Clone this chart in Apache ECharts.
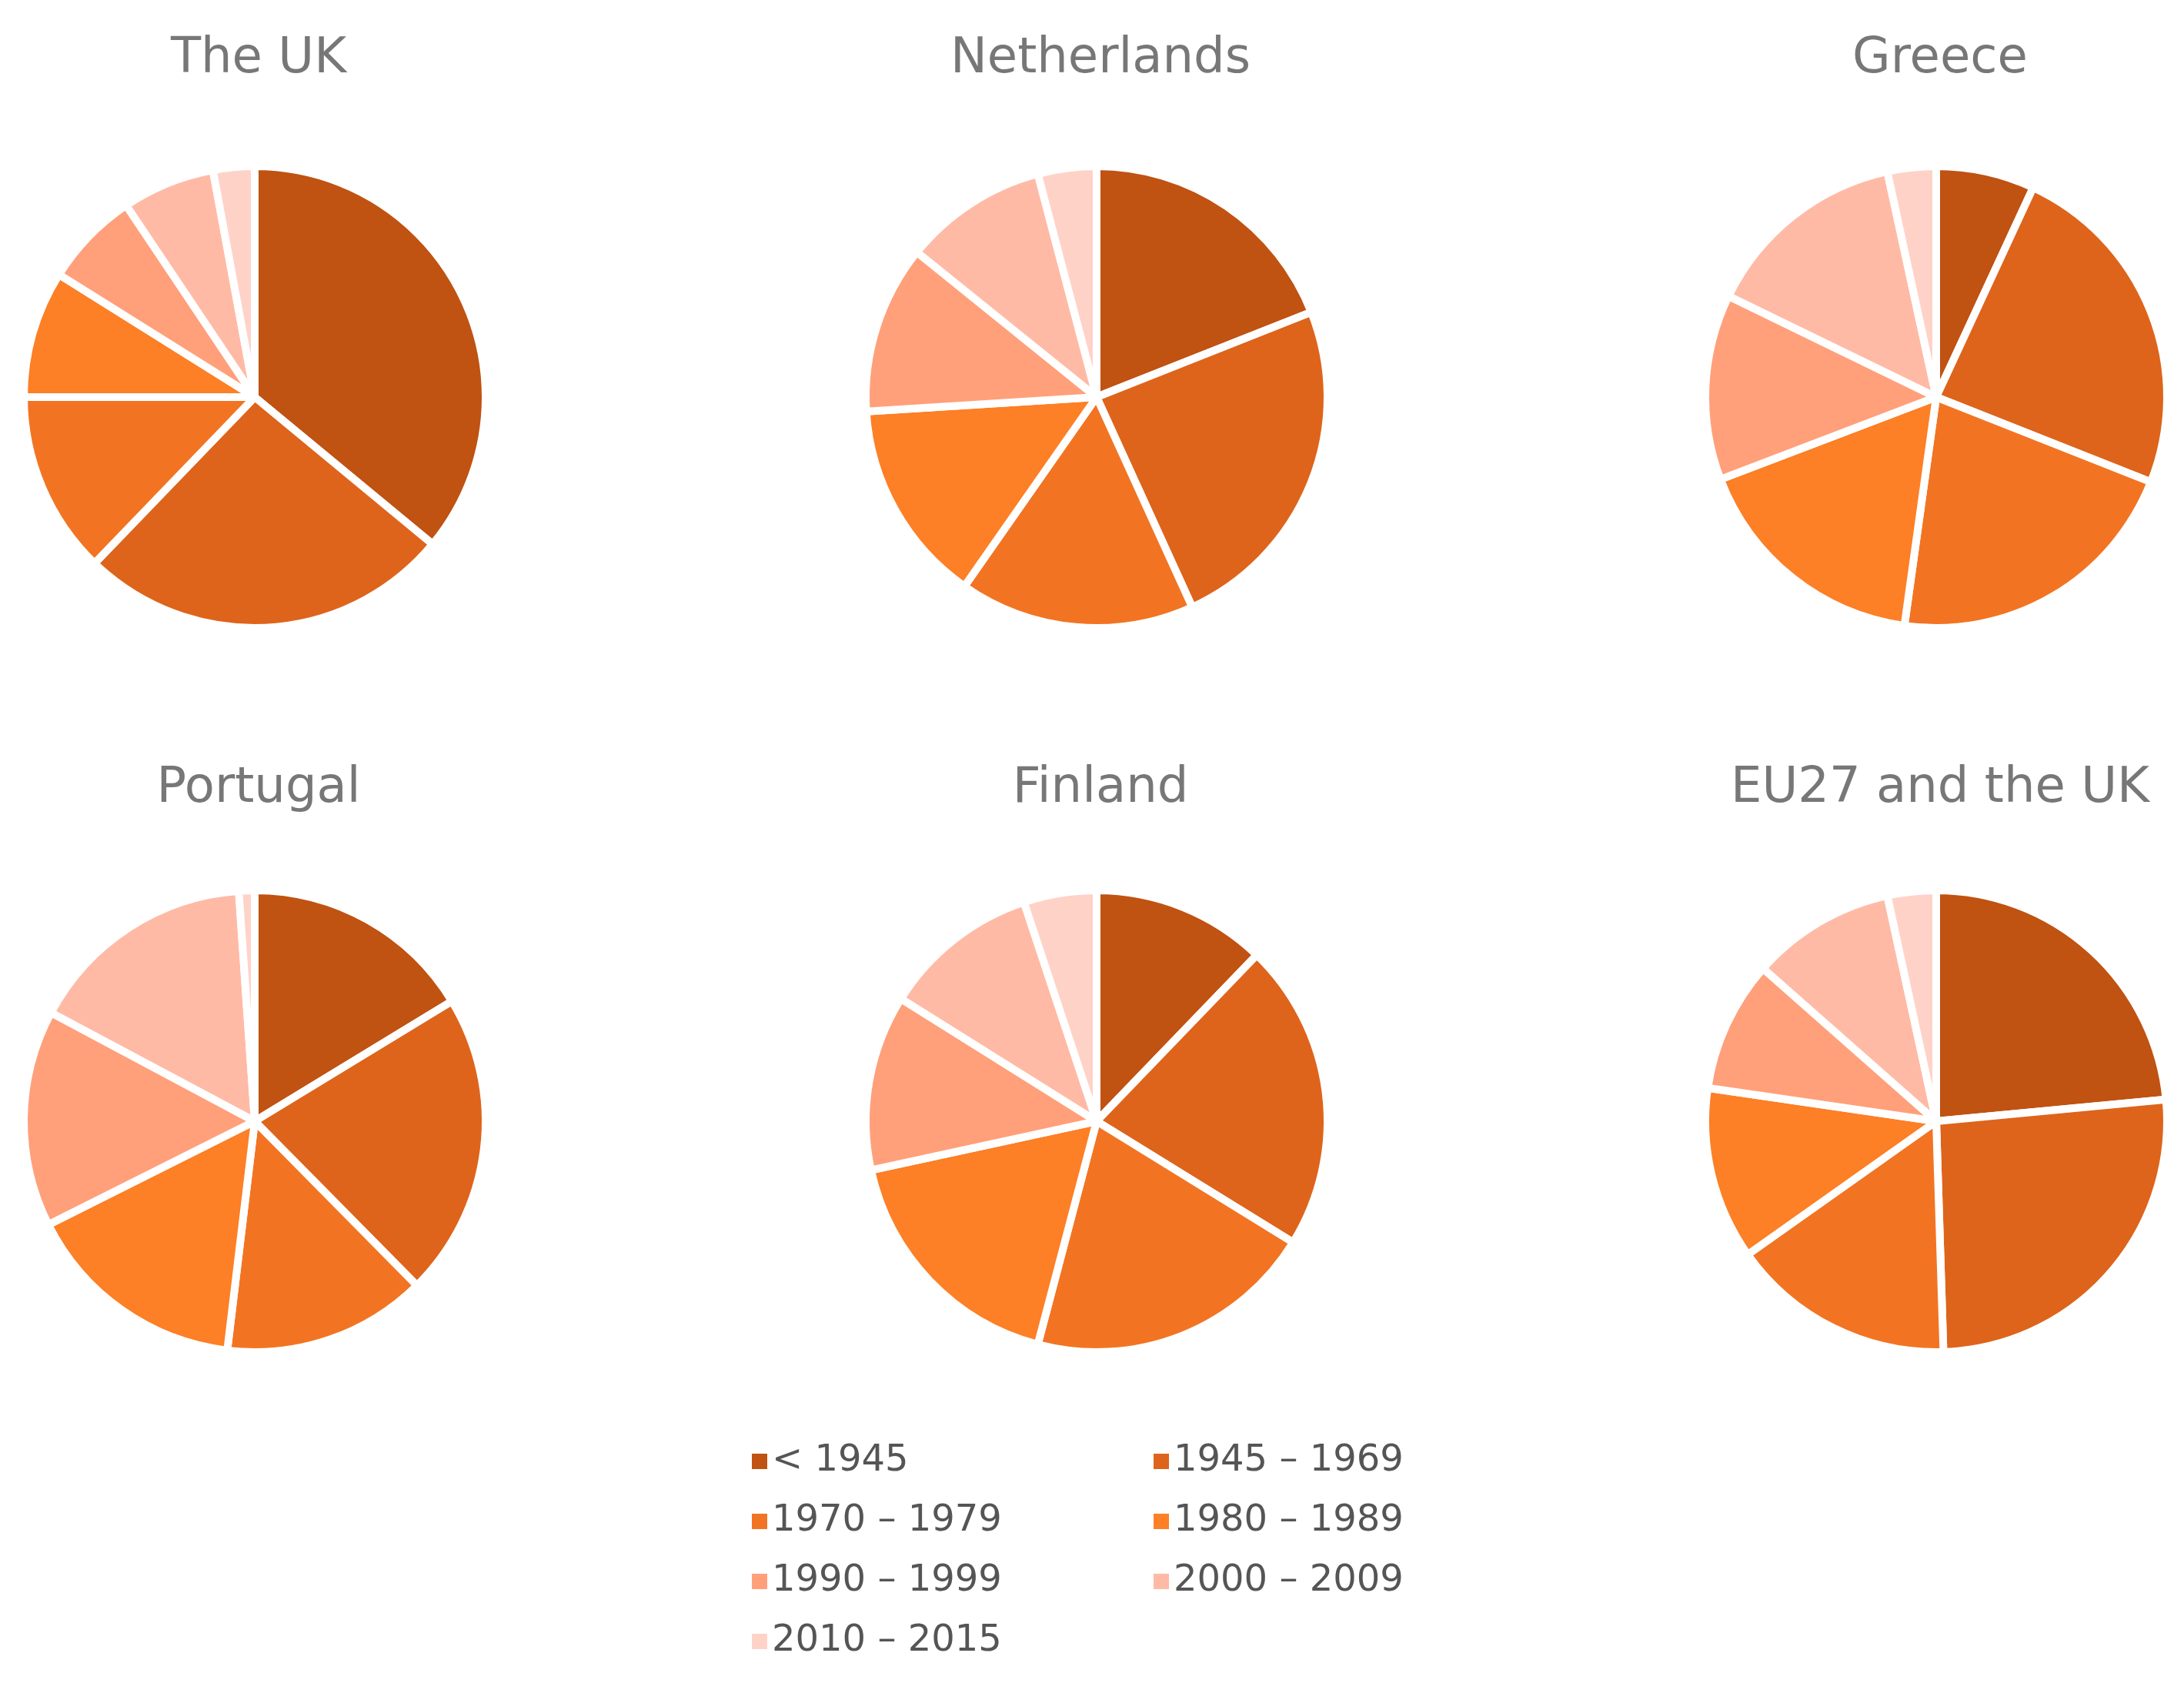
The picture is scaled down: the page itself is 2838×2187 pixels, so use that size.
<!DOCTYPE html>
<html><head><meta charset="utf-8">
<script src="https://cdn.jsdelivr.net/npm/echarts@6/dist/echarts.min.js"></script>
<style>html,body{margin:0;padding:0;background:#fff}#c{width:2838px;height:2187px}</style>
</head><body><div id="c"></div>
<script>
const categories = ['< 1945','1945 – 1969','1970 – 1979','1980 – 1989','1990 – 1999','2000 – 2009','2010 – 2015'];
const countries = ['The UK','Netherlands','Greece','Portugal','Finland','EU27 and the UK'];
const ukValues = [36.0,26.2,12.8,8.9,6.7,6.5,2.9];
const nlValues = [19.0,24.2,16.5,14.3,11.8,10.1,4.1];
const grValues = [6.9,24.1,21.2,17.0,13.0,14.4,3.4];
const ptValues = [16.3,21.3,14.3,15.7,15.2,16.1,1.1];
const fiValues = [12.2,21.6,20.3,17.5,12.3,11.0,5.1];
const euValues = [23.5,26.0,15.7,12.1,9.2,10.1,3.4];
const allValues = [ukValues,nlValues,grValues,ptValues,fiValues,euValues];
const colors = ['#C05212','#DE641B','#F27422','#FD7F26','#FFA07A','#FFBAA6','#FFD2C8'];

const cx = [331,1425,2516], cy = [516,1457], ty = [40,988];
const series = [], titles = [];
allValues.forEach((vals,i)=>{
  const col=i%3,row=Math.floor(i/3);
  titles.push({text:countries[i],left:cx[col],top:ty[row],textAlign:'center',
    textStyle:{fontFamily:'DejaVu Sans',fontSize:64,fontWeight:'normal',color:'#777'}});
  series.push({type:'pie',center:[cx[col],cy[row]],radius:[0,300],startAngle:90,clockwise:true,
    label:{show:false},labelLine:{show:false},silent:true,animation:false,
    itemStyle:{borderColor:'#fff',borderWidth:10},
    data:vals.map((v,k)=>({name:categories[k],value:v,itemStyle:{color:colors[k]}}))});
});
const legStyle={fontFamily:'DejaVu Sans',fontSize:48,color:'#555'};
const chart=echarts.init(document.getElementById('c'));
chart.setOption({
  color:colors,title:titles,series:series,
  legend:[
    {orient:'vertical',left:970,top:1870,itemWidth:22,itemHeight:22,itemGap:30,icon:'rect',textStyle:legStyle,
     data:[categories[0],categories[2],categories[4],categories[6]]},
    {orient:'vertical',left:1492,top:1870,itemWidth:22,itemHeight:22,itemGap:30,icon:'rect',textStyle:legStyle,
     data:[categories[1],categories[3],categories[5]]}
  ]
});
</script></body></html>
